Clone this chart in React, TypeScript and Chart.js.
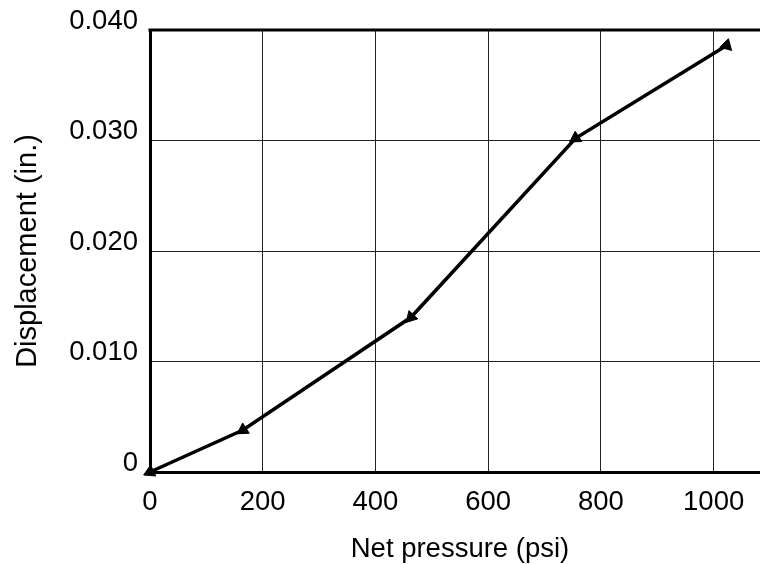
import React, { useEffect, useRef } from "react";
import { Chart, registerables } from "chart.js";

Chart.register(...registerables);

const pressure = [0, 165, 463, 755, 1023];
const displacement = [0, 0.0038, 0.014, 0.0302, 0.0386];
const markerRotation = [245, 237, 223, 237, 15];
const xTitle = "Net pressure (psi)";
const yTitle = "Displacement (in.)";

const FONT = "'Liberation Sans', Arial, Helvetica, sans-serif";

const topBorder = {
  id: "topBorder",
  afterDraw(chart: any) {
    const { ctx, chartArea } = chart;
    ctx.save();
    ctx.strokeStyle = "#000";
    ctx.lineWidth = 3;
    ctx.beginPath();
    ctx.moveTo(chartArea.left - 1.5, chartArea.top);
    ctx.lineTo(chartArea.right + 2, chartArea.top);
    ctx.stroke();
    ctx.restore();
  },
};

export default function App() {
  const ref = useRef<HTMLCanvasElement>(null);
  useEffect(() => {
    document.documentElement.style.overflow = "hidden";
    if (!ref.current) return;
    const chart = new Chart(ref.current, {
      type: "line",
      data: {
        datasets: [
          {
            data: pressure.map((x, i) => ({ x, y: displacement[i] })),
            borderColor: "#000",
            backgroundColor: "#000",
            borderWidth: 3.5,
            pointStyle: "triangle",
            pointRadius: 7,
            pointRotation: markerRotation,
            pointBorderWidth: 1,
            pointBackgroundColor: "#000",
            pointBorderColor: "#000",
            tension: 0,
            clip: false as any,
          },
        ],
      },
      options: {
        animation: false,
        responsive: false,
        layout: { padding: { top: 22, right: 4, left: 0, bottom: 0 } },
        plugins: { legend: { display: false }, tooltip: { enabled: false } },
        scales: {
          x: {
            type: "linear",
            min: 0,
            max: 1100,
            afterFit: (s: any) => {
              s.height = 92;
              s.paddingLeft = 0;
              s.paddingRight = 0;
            },
            ticks: {
              stepSize: 200,
              includeBounds: false,
              color: "#000",
              padding: 14,
              font: { family: FONT, size: 27.5 },
              callback: (v: any) => String(v),
            },
            grid: { color: "#222", lineWidth: 1, drawTicks: false },
            border: { color: "#000", width: 3 },
            title: {
              display: true,
              text: xTitle,
              color: "#000",
              font: { family: FONT, size: 27.5, lineHeight: 1.0 },
              padding: { top: 0, bottom: 1 },
            },
          },
          y: {
            type: "linear",
            min: 0,
            max: 0.04,
            afterFit: (s: any) => {
              s.width = 142;
              s.paddingTop = 0;
              s.paddingBottom = 0;
            },
            ticks: {
              stepSize: 0.01,
              color: "#000",
              padding: 12,
              labelOffset: -9,
              font: { family: FONT, size: 27.5 },
              callback: (v: any) => (Number(v) === 0 ? "0" : Number(v).toFixed(3)),
            },
            grid: { color: "#222", lineWidth: 1, drawTicks: false },
            border: { color: "#000", width: 3 },
            title: {
              display: true,
              text: yTitle,
              color: "#000",
              font: { family: FONT, size: 29, lineHeight: 1.2 },
              padding: { top: 3, bottom: 0 },
            },
          },
        },
      },
      plugins: [topBorder],
    });
    return () => chart.destroy();
  }, []);
  return (
    <div style={{ width: 760, height: 556, overflow: "hidden", background: "#fff" }}>
      <canvas ref={ref} width={770} height={556} style={{ display: "block" }} />
    </div>
  );
}
